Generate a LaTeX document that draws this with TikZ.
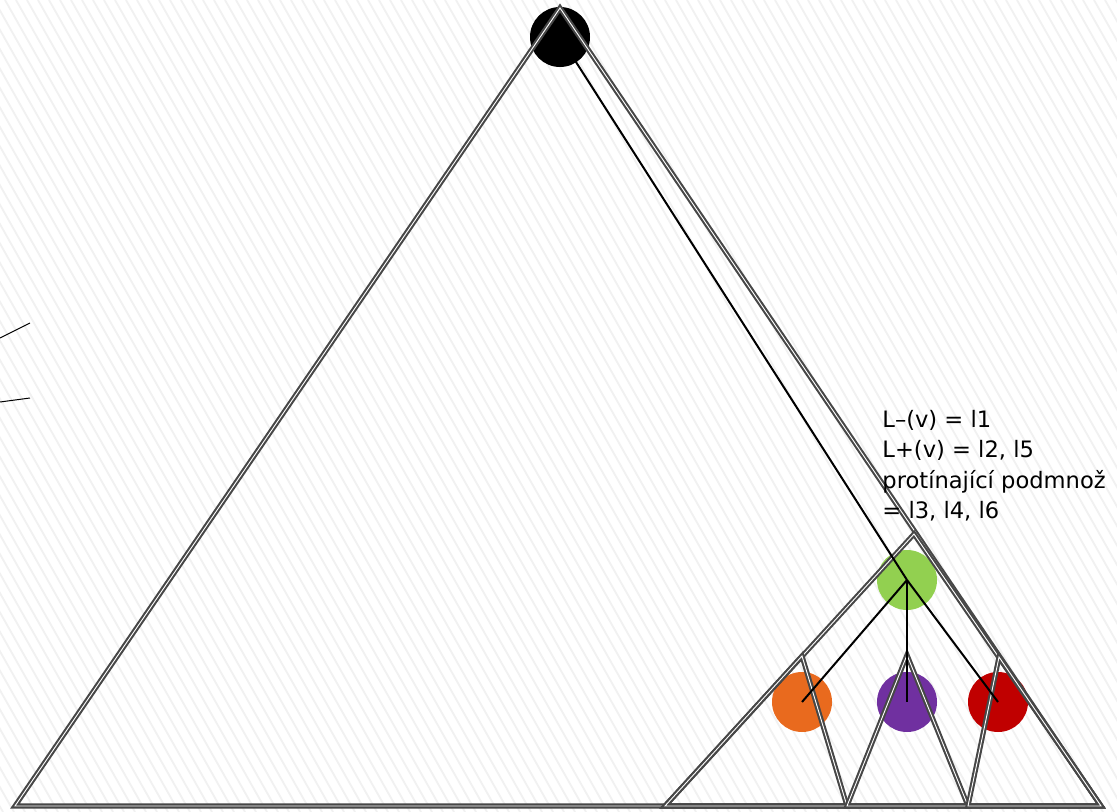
\documentclass[tikz,border=0pt]{standalone}
\usepackage{fontspec}
\setmainfont{DejaVu Sans}
\usetikzlibrary{positioning}

\definecolor{vgreen}{HTML}{92D050}
\definecolor{vorange}{HTML}{E96A1E}
\definecolor{vpurple}{HTML}{7030A0}
\definecolor{vred}{HTML}{C00000}
\definecolor{edgegray}{HTML}{474747}

\begin{document}
\begin{tikzpicture}[
  x=0.5pt, y=-0.5pt,
  vertex/.style={circle, inner sep=0pt, minimum size=30pt},
  tri/.style={draw=edgegray, line width=1.05pt, double=white, double distance=0.45pt, line join=miter},
  edge/.style={line width=1pt},
  hatch/.style={gray!11, line width=0.9pt},
  label/.style={align=left, inner sep=0pt, anchor=north west, font=\fontsize{11.3pt}{15.2pt}\selectfont}
]
\useasboundingbox (0,0) rectangle (1117,812);
\begin{scope}
  \clip (0,0) rectangle (1117,812);
  \fill[white] (0,0) rectangle (1117,812);
  \foreach \i in {-600,-589,...,1130}
    \draw[hatch] (\i,0) -- ++(460,812);
\end{scope}

\node[vertex, fill=black] (root) at (560,37) {};
\node[vertex, fill=vgreen] (v) at (907,580) {};
\node[vertex, fill=vorange] (a) at (802,702) {};
\node[vertex, fill=vpurple] (b) at (907,702) {};
\node[vertex, fill=vred] (c) at (998,702) {};

\draw[tri] (15,806) -- (560,8) -- (1101,806) -- cycle;
\draw[tri] (665,806) -- (914,534) -- (1101,806) -- cycle;
\draw[tri] (665,806) -- (802,656) -- (847,806) -- cycle;
\draw[tri] (847,806) -- (907,655) -- (968,806) -- cycle;
\draw[tri] (968,806) -- (999,657) -- (1101,806) -- cycle;

\draw[edge] (root.center) -- (v.center);
\draw[edge] (v.center) -- (a.center);
\draw[edge] (v.center) -- (b.center);
\draw[edge] (v.center) -- (c.center);

\coordinate (p1) at (0,338);
\coordinate (q1) at (30,323);
\coordinate (p2) at (0,402);
\coordinate (q2) at (30,398);
\draw[line width=0.5pt] (p1) -- (q1);
\draw[line width=0.5pt] (p2) -- (q2);

\node[label] (info) at (882,410) {L–(v) = l1\\L+(v) = l2, l5\\protínající podmnož\\= l3, l4, l6};
\end{tikzpicture}
\end{document}
